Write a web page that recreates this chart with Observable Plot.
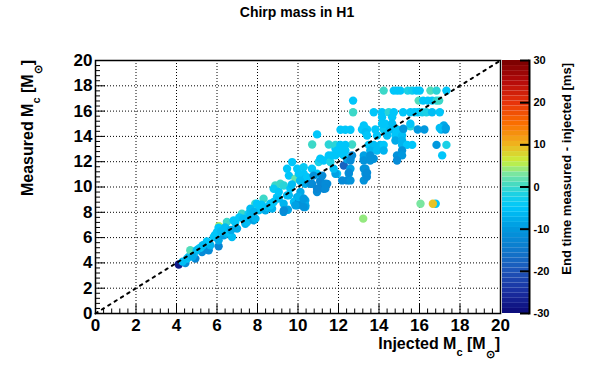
<!DOCTYPE html>
<html>
<head>
<meta charset="utf-8">
<script src="https://cdn.jsdelivr.net/npm/d3@7"></script>
<script src="https://cdn.jsdelivr.net/npm/@observablehq/plot@0.6"></script>
<style>
  html, body { margin: 0; padding: 0; background: white; }
  #wrap { position: relative; width: 596px; height: 374px; font-family: "Liberation Sans", Arial, Helvetica, sans-serif; }
  #wrap svg { position: absolute; top: 0; }
</style>
</head>
<body>
<div id="wrap"></div>
<script>
// ---- data ----
const injected = [
 4.11,4.44,4.52,4.6,4.93,4.85,4.68,5.1,5.26,5.18,5.42,5.59,5.67,5.84,6.08,6.08,6.0,6.1,6.08,6.33,
 6.5,6.74,6.58,6.49,6.82,6.99,5.9,6.2,5.5,4.3,5.0,5.3,6.4,6.7,6.9,4.8,7.23,7.4,7.49,7.56,
 7.64,7.81,7.9,7.89,8.06,8.14,8.3,8.39,8.47,8.63,8.72,8.8,8.96,9.05,8.88,8.8,9.13,9.3,9.05,9.29,
 9.29,9.5,9.46,9.62,7.65,7.97,7.81,8.63,7.1,7.3,8.2,9.55,9.71,9.46,9.87,9.96,10.04,10.28,10.28,10.36,
 10.36,9.55,9.96,10.36,9.96,10.36,9.8,9.3,10.04,9.87,10.36,10.28,10.12,10.03,10.28,10.28,10.94,11.27,11.44,10.45,
 10.61,11.1,10.69,11.1,11.35,10.94,11.35,10.69,10.94,10.77,11.2,11.02,11.1,10.94,10.7,11.52,11.52,11.27,11.6,9.7,
 10.1,11.85,12.1,12.67,11.85,12.18,12.26,12.59,12.43,13.25,13.5,13.74,13.33,13.33,11.93,12.51,12.18,12.43,12.59,11.85,
 13.25,13.4,12.1,12.34,12.59,13.16,13.41,13.25,13.33,13.82,14.23,14.56,14.89,15.19,15.55,15.91,16.24,17.07,17.28,17.2,
 13.41,13.9,14.4,14.81,15.14,14.81,15.14,11.85,12.09,12.34,13.49,13.74,14.07,14.23,15.14,15.39,15.64,16.84,17.33,11.93,
 12.34,13.57,13.9,14.23,15.14,11.68,12.26,12.67,13.25,13.57,14.89,15.14,17.12,12.59,13.25,13.57,14.89,11.76,12.59,13.25,
 12.51,13.41,14.23,14.73,14.9,15.06,15.42,15.64,15.85,16.01,16.54,16.84,17.33,12.72,15.96,16.18,16.41,16.62,16.84,16.97,
 12.72,13.74,14.15,14.48,14.73,15.19,15.55,15.75,15.92,16.13,16.34,16.62,17.0,14.15,14.65,14.15,14.31,14.65,17.0,17.3,
 15.55,15.2,16.05,16.8,16.66,13.22
];
const measured = [
 3.87,3.99,4.34,4.47,4.34,4.73,5.0,5.13,4.86,5.2,5.39,5.0,5.39,6.05,5.31,5.79,6.44,6.9,6.79,6.18,
 6.32,6.05,6.44,7.23,7.36,6.71,6.2,6.5,5.7,4.1,5.0,5.4,6.8,6.6,7.2,4.5,7.89,7.1,7.24,7.89,
 7.76,7.36,7.5,8.68,8.15,8.29,9.07,8.16,8.41,8.68,8.29,8.82,9.2,9.08,10.12,9.86,10.26,10.12,9.6,8.03,
 8.68,8.2,9.34,9.87,8.28,8.68,8.02,8.55,7.6,7.5,8.6,10.9,11.97,11.45,10.66,11.44,11.05,11.57,11.05,10.65,
 10.26,9.34,9.2,8.94,8.55,8.55,8.81,8.15,8.82,8.55,8.42,9.08,9.6,9.2,9.07,8.41,9.6,9.86,10.25,10.78,
 10.25,10.52,10.26,10.4,10.26,9.87,9.87,11.45,11.05,10.9,10.9,11.97,12.24,14.16,13.36,13.36,12.5,12.1,11.97,10.2,
 10.5,13.02,13.15,13.36,12.5,12.63,11.7,12.23,12.2,12.23,12.23,12.23,11.44,11.05,11.05,11.05,10.52,10.52,10.52,11.05,
 10.52,10.8,14.52,14.52,14.52,14.55,14.55,14.86,14.34,14.55,14.55,14.55,14.55,14.55,14.8,14.55,14.55,14.55,14.55,14.87,
 14.07,14.07,14.07,14.07,14.07,13.67,13.67,13.33,13.33,13.33,13.33,13.33,13.33,13.33,13.33,13.33,13.33,13.33,13.33,12.89,
 12.89,12.89,12.89,12.89,12.89,12.5,12.5,12.5,12.5,12.5,12.5,12.5,12.5,12.1,12.1,12.1,12.1,11.45,11.45,11.45,
 11.13,11.13,17.62,17.62,17.62,17.62,17.62,17.62,17.62,17.62,17.62,17.62,17.62,16.83,16.83,16.83,16.83,16.83,16.83,16.83,
 15.91,15.91,15.91,15.91,15.91,15.91,15.91,15.91,15.91,15.91,15.91,15.91,15.91,15.52,15.52,15.0,15.0,15.0,14.66,14.66,
 15.0,14.6,8.68,8.68,8.68,7.5
];
const dtMs = [
 -28,-12,-5,-6,-13,-5,1,-5,-12,-4,-6,-12,-7,-5,-13,-8,-5,5,-5,-9,
 -7,-6,-5,0,-5,-8,-5,-6,-5,-6,-6,-6,-6,-8,-5,-8,0,-7,-6,-4,
 -6,-9,-7,0,-6,-5,0,-8,-6,-5,-7,-5,-5,-6,0,-4,0,-1,-5,-11,
 -7,-9,-6,-5,-6,-5,-7,-5,-5,-6,-5,-5,-5,-5,2,-5,-5,-4,-5,-6,
 -8,-6,-8,-9,-10,-8,-6,-12,-11,-9,-9,-9,-8,-7,-10,-11,-12,-13,-12,-5,
 -10,-11,-12,-13,-12,-13,-12,-5,-5,-11,-12,-2,-5,-5,0,-1,-5,-5,-2,-6,
 -6,-5,-5,0,-5,-5,-18,-8,-9,-9,-10,-11,-11,-11,-5,-8,-12,-12,-11,-9,
 -11,-12,-5,-5,-5,-5,-5,-5,-6,-5,-4,-6,-5,-5,-1,-10,-10,-7,-10,-8,
 -5,-5,-6,-5,-6,-8,-7,-1,-5,-5,-5,-6,-6,-5,-7,-5,-5,-10,-2,-5,
 -5,-7,-6,-7,-11,-5,-5,-12,-9,-11,-11,-10,-5,-12,-11,-11,-12,-6,-9,-11,
 -12,-12,0,-5,-5,-5,-2,-3,-5,-5,1,-1,-5,-5,1,-5,-5,-5,-1,0,
 0,-5,-5,-1,-5,-5,-5,-5,-5,-3,-2,-6,-5,-5,-5,-5,-5,-6,-6,-9,
 -5,-10,3,-5,9,4
];
const majorTicks = [0, 2, 4, 6, 8, 10, 12, 14, 16, 18, 20];
const gridTicks = [2, 4, 6, 8, 10, 12, 14, 16, 18];
const minorTicks = d3.range(0, 51).map(i => +(i * 0.4).toFixed(1)).filter(v => v <= 20 && Math.abs(v / 2 - Math.round(v / 2)) > 1e-6);
const diagonal = [0, 20];
const cbTicks = [-30, -20, -10, 0, 10, 20, 30];
const paletteStops = [-30, -25, -20, -15, -10, -5, -2, 0, 3, 6, 10, 15, 20, 25, 30];
const paletteColors = ["#0b0a78", "#1a2fa0", "#1e55b8", "#0f78cc", "#0098de", "#00c6fa", "#1ad0e6", "#3cd8c8",
                       "#7ae6a0", "#c8f03c", "#f0b41e", "#fa6e00", "#e6320a", "#b40a0a", "#780000"];
const cbLevels = d3.range(50).map(i => -30 + i * 1.2);

const points = injected.map((x, i) => ({x, y: measured[i], t: dtMs[i]}));
const FONT = '"Liberation Sans", Arial, Helvetica, sans-serif';
const colorScale = {type: "linear", domain: paletteStops, range: paletteColors, interpolate: "rgb"};

const W = 596, H = 374, mL = 95, mR = 96, mT = 60, mB = 61;
const frameH = H - mT - mB, frameW = W - mL - mR;

const main = Plot.plot({
  width: W, height: H,
  marginLeft: mL, marginRight: mR, marginTop: mT, marginBottom: mB,
  x: {domain: [0, 20], axis: null, label: null},
  y: {domain: [0, 20], axis: null, label: null},
  color: colorScale,
  style: {fontFamily: FONT, background: "white", color: "black"},
  marks: [
    Plot.gridX(gridTicks, {stroke: "black", strokeOpacity: 1, strokeWidth: 1, strokeDasharray: "1,2"}),
    Plot.gridY(gridTicks, {stroke: "black", strokeOpacity: 1, strokeWidth: 1, strokeDasharray: "1,2"}),
    Plot.dot(points, {x: "x", y: "y", fill: "t", r: 4.2}),
    Plot.line(diagonal, {x: d => d, y: d => d, stroke: "black", strokeWidth: 2, strokeDasharray: "2.5,5"}),
    Plot.tickX(majorTicks, {x: d => d, stroke: "black", strokeWidth: 1, insetTop: frameH - 9}),
    Plot.tickX(minorTicks, {x: d => d, stroke: "black", strokeWidth: 1, insetTop: frameH - 4.5}),
    Plot.tickY(majorTicks, {y: d => d, stroke: "black", strokeWidth: 1, insetRight: frameW - 10}),
    Plot.tickY(minorTicks, {y: d => d, stroke: "black", strokeWidth: 1, insetRight: frameW - 5}),
    Plot.axisX(majorTicks, {anchor: "bottom", label: null, tickSize: 0, tickPadding: 5, fontSize: 17, fontWeight: "bold", tickFormat: d => String(d)}),
    Plot.axisY(majorTicks, {anchor: "left", label: null, tickSize: 0, tickPadding: 3, fontSize: 17, fontWeight: "bold", tickFormat: d => String(d)}),
    Plot.frame({stroke: "black", strokeWidth: 1.5})
  ]
});

const cbar = Plot.plot({
  width: 96, height: H,
  marginLeft: 2, marginRight: 67, marginTop: mT, marginBottom: mB,
  y: {domain: [-30, 30], axis: null, label: null},
  color: colorScale,
  style: {fontFamily: FONT, background: "transparent", color: "black"},
  marks: [
    Plot.rect(cbLevels, {y1: d => d, y2: d => d + 1.2, fill: d => d + 0.6}),
    Plot.tickY(cbTicks, {y: d => d, stroke: "black", strokeWidth: 2, insetLeft: 18}),
    Plot.frame({anchor: "right", stroke: "black", strokeWidth: 2}),
    Plot.axisY(cbTicks, {anchor: "right", label: null, tickSize: 0, tickPadding: 4, fontSize: 11, fontWeight: "bold", tickFormat: d => String(d)})
  ]
});

const wrap = document.getElementById("wrap");
main.style.left = "0px";
cbar.style.left = "500px";
wrap.appendChild(main);
wrap.appendChild(cbar);

const svg = d3.select(main);
svg.append("text").attr("x", 297).attr("y", 17).attr("text-anchor", "middle")
  .attr("font-family", FONT).attr("font-size", 14).attr("font-weight", "bold").attr("fill", "black")
  .text("Chirp mass in H1");

const xt = svg.append("text").attr("x", 500).attr("y", 349).attr("text-anchor", "end")
  .attr("font-family", FONT).attr("font-size", 16).attr("font-weight", "bold").attr("fill", "black");
xt.append("tspan").text("Injected M");
xt.append("tspan").attr("font-size", 11).attr("dy", 7).text("c");
xt.append("tspan").attr("dy", -7).text(" [M");
xt.append("tspan").attr("font-size", 11).attr("dy", 9).text("⊙");
xt.append("tspan").attr("dy", -9).text("]");

const yt = svg.append("text").attr("transform", "translate(33,60) rotate(-90)").attr("text-anchor", "end")
  .attr("font-family", FONT).attr("font-size", 16).attr("font-weight", "bold").attr("fill", "black");
yt.append("tspan").text("Measured M");
yt.append("tspan").attr("font-size", 11).attr("dy", 7).text("c");
yt.append("tspan").attr("dy", -7).text(" [M");
yt.append("tspan").attr("font-size", 11).attr("dy", 9).text("⊙");
yt.append("tspan").attr("dy", -9).text("]");

d3.select(cbar).append("text").attr("transform", "translate(71,63) rotate(-90)").attr("text-anchor", "end")
  .attr("font-family", FONT).attr("font-size", 13).attr("font-weight", "bold").attr("fill", "black")
  .text("End time measured - injected [ms]");
</script>
</body>
</html>
